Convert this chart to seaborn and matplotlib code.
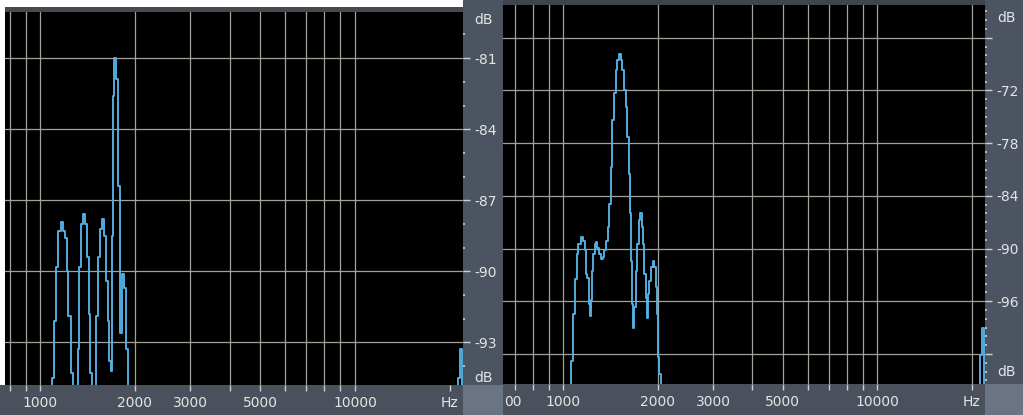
import matplotlib
matplotlib.use("Agg")
import matplotlib.pyplot as plt
from matplotlib.patches import Rectangle
from matplotlib.ticker import FixedLocator
import pandas as pd
import seaborn as sns

# ---- spectrum data: frequency (Hz) and level (dB) ----
left_freq = [1080, 1103, 1116, 1135, 1152, 1172, 1192, 1210, 1222, 1240,
             1261, 1276, 1314, 1324, 1340, 1357, 1374, 1400, 1418, 1435,
             1449, 1470, 1496, 1514, 1536, 1559, 1590, 1613, 1629, 1649,
             1669, 1682, 1694, 1711, 1736, 1762, 1788, 1810, 1841, 1868,
             1895, 1923, 21100, 21330, 21810, 22050]
left_db = [-97, -94.5, -92.1, -89.8, -88.3, -87.9, -88.3, -88.6, -90.0, -91.9,
           -94.3, -97, -97, -93.3, -89.8, -88.0, -87.6, -88.0, -89.4, -91.8,
           -94.3, -97, -95.5, -91.9, -89.4, -88.2, -87.8, -88.5, -90.4, -92.1,
           -93.8, -94.2, -88.5, -82.6, -81.0, -81.9, -86.4, -92.6, -90.1, -90.7,
           -93.3, -97, -97, -94.5, -93.3, -97]

right_freq = [1050, 1070, 1081, 1094, 1108, 1124, 1144, 1163, 1175, 1186,
              1201, 1210, 1222, 1230, 1240, 1252, 1264, 1276, 1292, 1308,
              1324, 1341, 1357, 1374, 1391, 1408, 1425, 1442, 1460, 1478,
              1496, 1515, 1533, 1552, 1571, 1591, 1610, 1622, 1638, 1650,
              1663, 1679, 1691, 1712, 1733, 1754, 1767, 1785, 1798, 1820,
              1834, 1852, 1870, 1888, 1911, 1935, 1958, 1983, 1997, 2012,
              2032, 2050, 21100, 21340, 21780, 22050]
right_db = [-107, -102.8, -97.5, -93.5, -90.6, -89.5, -88.7, -89.1, -90.2, -92.9,
            -93.3, -96.3, -97.7, -95.9, -92.5, -90.6, -89.5, -89.3, -89.9, -90.6,
            -91.2, -91.0, -90.2, -89.1, -87.6, -84.9, -80.7, -75.4, -72.3, -69.7,
            -68.5, -67.8, -68.5, -69.7, -71.9, -73.9, -77.3, -81.5, -86.0, -91.4,
            -96.3, -99.0, -96.7, -92.5, -89.5, -86.8, -86.0, -87.6, -89.5, -92.9,
            -95.6, -97.9, -95.2, -93.7, -92.1, -91.4, -92.1, -94.4, -97.5, -102.4,
            -104.3, -107, -107, -102.1, -99.0, -107]

# ---- axis ticks and labels ----
freq_ticks = [800, 900, 1000, 2000, 3000, 4000, 5000, 6000, 7000, 8000, 9000, 10000, 20000]
freq_labels = ["", "", "1000", "2000", "3000", "", "5000", "", "", "", "", "10000", "Hz"]
left_grid_freqs = [800, 900, 1000, 2000, 3000, 4000, 5000, 6000, 7000, 8000, 9000, 10000]
right_grid_freqs = [700, 800, 900, 1000, 2000, 3000, 4000, 5000, 6000, 7000, 8000, 9000, 10000, 20000]
right_freq_ticks = [700] + freq_ticks
right_freq_labels = [""] + freq_labels

left_db_ticks = [-81, -84, -87, -90, -93]
left_db_labels = ["-81", "-84", "-87", "-90", "-93"]
right_db_ticks = [-66, -72, -78, -84, -90, -96, -102]
right_db_labels = ["", "-72", "-78", "-84", "-90", "-96", ""]

W, H = 1023, 415
TEXT = "#e4e4e4"
GRID = "#a2a29a"
TRACE = "#55b2e6"
STRIP = "#4d5461"
CORNER = "#6b7483"

plt.rcParams["font.family"] = ["DejaVu Sans"]

fig = plt.figure(figsize=(W / 100, H / 100), dpi=100)
fig.patch.set_facecolor("white")


def fig_rect(x0, y0, x1, y1, color):
    fig.patches.append(Rectangle((x0 / W, 1 - y1 / H), (x1 - x0) / W, (y1 - y0) / H,
                                 transform=fig.transFigure, facecolor=color,
                                 edgecolor="none", zorder=-5))


def add_axes_px(x0, y0, x1, y1):
    return fig.add_axes([x0 / W, 1 - y1 / H, (x1 - x0) / W, (y1 - y0) / H])


# frame strips around the two analyser windows
fig_rect(5, 7, 463, 12, "#464b52")
fig_rect(463, 0, 503, 385, STRIP)
fig_rect(0, 385, 463, 415, "#4a515c")
fig_rect(463, 385, 503, 415, CORNER)
fig_rect(503, 0, 1023, 5, "#3f454c")
fig_rect(985, 0, 1023, 383.5, STRIP)
fig_rect(503, 383.5, 985, 415, "#4a515c")
fig_rect(985, 383.5, 1023, 415, CORNER)


def setup(ax, xlim, ylim, grid_f, grid_db):
    ax.set_facecolor("black")
    ax.set_xscale("log")
    ax.set_xlim(*xlim)
    ax.set_ylim(*ylim)
    for f in grid_f:
        ax.axvline(f, color=GRID, lw=0.9, zorder=1)
    for d in grid_db:
        ax.axhline(d, color=GRID, lw=0.9, zorder=1)
    ax.grid(False)
    for s in ax.spines.values():
        s.set_visible(False)


def finish(ax, ylim, xt, xl, yt, yl, minor_step):
    ax.set_xlabel("")
    ax.set_ylabel("")
    ax.set_xticks(xt)
    ax.set_xticklabels(xl)
    ax.xaxis.set_minor_locator(FixedLocator([]))
    ax.tick_params(axis="x", which="major", direction="out", length=4, width=1,
                   bottom=True, top=False, labelbottom=True,
                   color="#cfcfcf", labelcolor=TEXT, labelsize=10, pad=4)
    ax.yaxis.tick_right()
    ax.set_yticks(yt)
    ax.set_yticklabels(yl)
    lo, hi = ylim
    minors = []
    v = float(int(hi))
    while v > lo:
        if v not in yt:
            minors.append(v)
        v -= minor_step
    ax.yaxis.set_minor_locator(FixedLocator(minors))
    ax.tick_params(axis="y", which="major", direction="out", length=5, width=1,
                   right=True, left=False, labelright=True, labelleft=False,
                   color="#cfcfcf", labelcolor=TEXT, labelsize=10, pad=3)
    ax.tick_params(axis="y", which="minor", direction="out", length=1.6, width=1.4,
                   right=True, left=False, color="#b8bcc4")


# left window
LX, LY = (774, 22050), (-94.8, -79.05)
axL = add_axes_px(5, 12, 463, 385)
setup(axL, LX, LY, left_grid_freqs, left_db_ticks)
dfL = pd.DataFrame({"Hz": left_freq, "dB": left_db})
sns.lineplot(data=dfL, x="Hz", y="dB", ax=axL, color=TRACE, linewidth=1.35,
             drawstyle="steps-mid", sort=False, zorder=3)
axL.set_xlim(*LX)
axL.set_ylim(*LY)
finish(axL, LY, freq_ticks, freq_labels, left_db_ticks, left_db_labels, 1.0)

# right window
RX, RY = (642, 22060), (-105.36, -62.27)
axR = add_axes_px(503, 5, 985, 383.5)
setup(axR, RX, RY, right_grid_freqs, right_db_ticks)
dfR = pd.DataFrame({"Hz": right_freq, "dB": right_db})
sns.lineplot(data=dfR, x="Hz", y="dB", ax=axR, color=TRACE, linewidth=1.35,
             drawstyle="steps-mid", sort=False, zorder=3)
axR.set_xlim(*RX)
axR.set_ylim(*RY)
finish(axR, RY, right_freq_ticks, right_freq_labels,
       right_db_ticks, right_db_labels, 1.0)

# unit captions in the scale strips
for x, y in [(474, 20), (474, 378), (997, 17.5), (997, 371.5)]:
    fig.text(x / W, 1 - y / H, "dB", color=TEXT, fontsize=10, ha="left", va="center")
fig.text(512.5 / W, 1 - 402 / H, "00", color=TEXT, fontsize=10, ha="center", va="center")

fig.savefig("out.png", dpi=100, facecolor=fig.get_facecolor())
